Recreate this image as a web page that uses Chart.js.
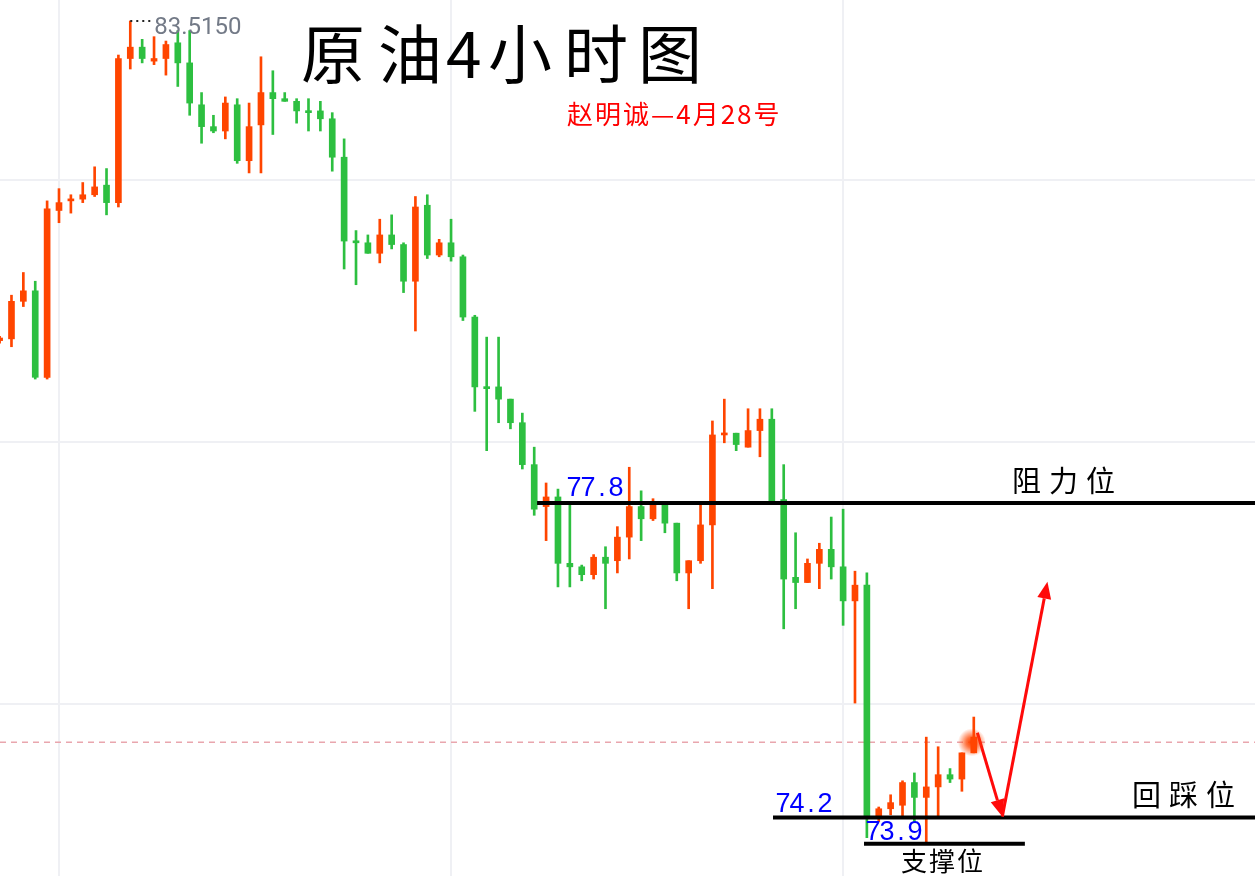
<!DOCTYPE html>
<html>
<head>
<meta charset="utf-8">
<script src="https://cdn.jsdelivr.net/npm/chart.js@4.4.0/dist/chart.umd.min.js"></script>
<style>
  html, body { margin: 0; padding: 0; background: #fff; }
  #wrap { width: 1255px; height: 876px; position: relative; }
</style>
</head>
<body>
<div id="wrap"><canvas id="chart"></canvas></div>
<script>
// 4h candles, oldest first
const opens = [79.66, 79.68, 80.11, 80.23, 79.24, 81.15, 81.26, 81.28, 81.33, 81.44,
  81.24, 82.89, 83.02, 82.86, 82.89, 83.07, 82.84, 82.36, 82.11, 82.06,
  82.36, 81.72, 82.13, 82.50, 82.43, 82.40, 82.29, 82.29, 82.20, 81.76,
  80.80, 80.78, 80.66, 80.87, 80.76, 80.34, 81.21, 80.64, 80.78, 80.62,
  79.93, 79.13, 79.13, 78.99, 78.72, 78.24, 77.76, 77.87, 77.11, 77.07,
  76.98, 77.18, 77.14, 77.41, 77.76, 77.62, 77.80, 77.57, 77.00, 77.14,
  77.55, 78.58, 78.60, 78.44, 78.63, 78.76, 77.84, 76.95, 76.89, 77.11,
  77.27, 77.07, 76.68, 76.86, 74.21, 74.30, 74.34, 74.60, 74.43, 74.55,
  74.69, 74.64, 74.94];
const closes = [79.69, 80.11, 80.23, 79.24, 81.17, 81.24, 81.28, 81.33, 81.42, 81.24,
  82.89, 83.02, 82.89, 82.89, 83.05, 82.84, 82.38, 82.11, 82.06, 82.38,
  81.72, 82.11, 82.50, 82.43, 82.40, 82.29, 82.27, 82.20, 81.76, 80.80,
  80.78, 80.66, 80.87, 80.76, 80.34, 81.19, 80.64, 80.78, 80.62, 79.93,
  79.13, 79.11, 78.99, 78.72, 78.24, 77.73, 77.87, 77.11, 77.07, 76.98,
  77.18, 77.11, 77.41, 77.76, 77.62, 77.80, 77.57, 77.00, 77.14, 77.55,
  78.58, 78.60, 78.47, 78.63, 78.76, 77.82, 76.93, 76.89, 77.11, 77.27,
  77.07, 76.68, 76.86, 74.21, 74.30, 74.37, 74.60, 74.43, 74.55, 74.69,
  74.64, 74.94, 75.12];
const highs = [79.71, 80.18, 80.44, 80.34, 81.26, 81.40, 81.33, 81.47, 81.65, 81.63,
  82.93, 83.32, 83.11, 83.14, 83.09, 83.21, 83.21, 82.50, 82.24, 82.45,
  82.43, 82.38, 82.91, 82.75, 82.50, 82.43, 82.43, 82.40, 82.27, 81.97,
  80.92, 80.87, 81.05, 81.10, 80.78, 81.31, 81.33, 80.82, 81.05, 80.64,
  79.95, 79.70, 79.70, 78.99, 78.83, 78.44, 78.03, 77.96, 77.80, 77.09,
  77.21, 77.30, 77.53, 78.21, 77.94, 77.85, 77.82, 77.57, 77.14, 77.80,
  78.74, 78.99, 78.60, 78.88, 78.88, 78.88, 78.24, 77.46, 77.16, 77.34,
  77.64, 77.73, 77.02, 77.00, 74.32, 74.46, 74.62, 74.71, 75.12, 75.01,
  74.76, 74.94, 75.35];
const lows = [79.63, 79.59, 80.05, 79.22, 79.22, 81.01, 81.12, 81.24, 81.31, 81.10,
  81.19, 82.77, 82.84, 82.82, 82.70, 82.57, 82.24, 81.92, 82.04, 81.97,
  81.69, 81.58, 81.58, 82.02, 82.40, 82.15, 82.06, 82.06, 81.60, 80.48,
  80.30, 80.66, 80.55, 80.71, 80.21, 79.77, 80.60, 80.62, 80.57, 79.89,
  78.85, 78.40, 78.72, 78.65, 78.19, 77.66, 77.37, 76.84, 76.84, 76.91,
  76.93, 76.59, 77.00, 77.16, 77.37, 77.60, 77.46, 76.91, 76.59, 77.11,
  76.82, 78.49, 78.40, 78.44, 78.33, 77.80, 76.36, 76.59, 76.89, 76.82,
  76.93, 76.40, 75.51, 73.97, 74.15, 74.23, 74.21, 74.15, 73.91, 74.21,
  74.60, 74.50, 74.94];

const levelPrices = [77.8, 74.2, 73.9];
const levelTexts = ['77.8', '74.2', '73.9'];
const levelNames = ['阻力位', '回踩位', '支撑位'];
const lastPrice = 75.06;
const highText = '83.5150';
const titleText = '原油4小时图';
const subtitleText = '赵明诚—4月28号';
const gridPrices = [75.5, 78.5, 81.5];
const gridBars = [5, 38, 71];
// path of the drawn arrows: [bar index, price]
const arrowPath = [[82.3, 75.17], [84.4, 74.21], [88.2, 76.90]];

const UP = '#ff4500';
const DOWN = '#2dbf40';
const candleColors = opens.map((o, i) => closes[i] >= o ? UP : DOWN);

function spaced(ctx, text, x, y, gap) {
  for (const ch of text) {
    ctx.fillText(ch, x, y);
    x += ctx.measureText(ch).width + gap;
  }
}

function monoText(ctx, text, x, y, cell) {
  ctx.textAlign = 'center';
  [...text].forEach((ch, i) => ctx.fillText(ch, x + cell * i + cell / 2, y));
  ctx.textAlign = 'left';
}

function arrow(ctx, x1, y1, x2, y2) {
  const ang = Math.atan2(y2 - y1, x2 - x1);
  const len = 17, half = 7;
  const bx = x2 - Math.cos(ang) * len, by = y2 - Math.sin(ang) * len;
  ctx.beginPath();
  ctx.moveTo(x1, y1);
  ctx.lineTo(bx, by);
  ctx.stroke();
  ctx.beginPath();
  ctx.moveTo(x2, y2);
  ctx.lineTo(bx + Math.sin(ang) * half, by - Math.cos(ang) * half);
  ctx.lineTo(bx - Math.sin(ang) * half, by + Math.cos(ang) * half);
  ctx.closePath();
  ctx.fill();
}

const overlay = {
  id: 'overlay',
  beforeDatasetsDraw(chart) {
    const { ctx, chartArea, scales: { y } } = chart;
    const py = y.getPixelForValue(lastPrice);
    ctx.save();
    ctx.strokeStyle = '#e9a6ae';
    ctx.lineWidth = 1.5;
    ctx.setLineDash([6, 5]);
    ctx.beginPath();
    ctx.moveTo(chartArea.left, py);
    ctx.lineTo(chartArea.right, py);
    ctx.stroke();
    ctx.restore();
  },
  afterDatasetsDraw(chart) {
    const { ctx, scales: { x, y } } = chart;
    ctx.save();

    // key levels
    const starts = [45.24, 65.1, 72.76];
    const ends = [x.max, x.max, 86.3];
    const ly = levelPrices.map(v => y.getPixelForValue(v));
    ctx.strokeStyle = '#000';
    ctx.lineWidth = 4;
    levelPrices.forEach((v, i) => {
      ctx.beginPath();
      ctx.moveTo(x.getPixelForValue(starts[i]), ly[i]);
      ctx.lineTo(x.getPixelForValue(ends[i]), ly[i]);
      ctx.stroke();
    });

    ctx.textBaseline = 'middle';
    ctx.fillStyle = '#0000ff';
    ctx.font = '27px "Liberation Sans", Arial, sans-serif';
    monoText(ctx, levelTexts[0], 567, ly[0] - 15, 14);
    monoText(ctx, levelTexts[1], 776, ly[1] - 13, 14);
    monoText(ctx, levelTexts[2], 866, ly[2] - 11, 14);

    ctx.fillStyle = '#000';
    ctx.font = '29px "Noto Sans CJK SC", sans-serif';
    spaced(ctx, levelNames[0], 1012, ly[0] - 22, 8);
    spaced(ctx, levelNames[1], 1132, ly[1] - 22, 8);
    ctx.font = '26px "Noto Sans CJK SC", sans-serif';
    spaced(ctx, levelNames[2], 901, ly[2] + 17, 2);

    // high marker
    const hx = x.getPixelForValue(11);
    const hy = y.getPixelForValue(highs[11]);
    ctx.strokeStyle = '#222';
    ctx.lineWidth = 2;
    ctx.setLineDash([2, 4]);
    ctx.beginPath();
    ctx.moveTo(hx, hy);
    ctx.lineTo(hx + 21, hy);
    ctx.stroke();
    ctx.setLineDash([]);
    ctx.fillStyle = '#737a87';
    ctx.font = '24px Roboto, "Noto Sans", sans-serif';
    ctx.fillText(highText, hx + 24, hy + 7);

    // arrows
    const pts = arrowPath.map(p => [x.getPixelForValue(p[0]), y.getPixelForValue(p[1])]);
    ctx.strokeStyle = '#ff0a0a';
    ctx.fillStyle = '#ff0a0a';
    ctx.lineWidth = 3;
    arrow(ctx, pts[0][0], pts[0][1], pts[1][0], pts[1][1]);
    arrow(ctx, pts[1][0], pts[1][1], pts[2][0], pts[2][1]);

    // glowing last price dot
    const gx = x.getPixelForValue(opens.length - 1) - 2;
    const gy = y.getPixelForValue(lastPrice);
    const g = ctx.createRadialGradient(gx, gy, 1, gx, gy, 14);
    g.addColorStop(0, 'rgba(255,69,0,1)');
    g.addColorStop(0.35, 'rgba(255,69,0,0.75)');
    g.addColorStop(1, 'rgba(255,69,0,0)');
    ctx.fillStyle = g;
    ctx.beginPath();
    ctx.arc(gx, gy, 14, 0, Math.PI * 2);
    ctx.fill();

    // title + author line
    ctx.fillStyle = '#000';
    ctx.font = '64px "Noto Sans CJK SC", sans-serif';
    const lefts = [301, 378, 446, 488, 564, 638];
    [...titleText].forEach((ch, i) => ctx.fillText(ch, lefts[i], 54));
    ctx.fillStyle = '#ff0000';
    ctx.font = '26px "Noto Sans CJK SC", sans-serif';
    spaced(ctx, subtitleText, 567, 114, 2);

    ctx.restore();
  }
};

new Chart(document.getElementById('chart'), {
  type: 'bar',
  data: {
    datasets: [
      {
        label: 'body',
        data: opens.map((o, i) => ({ x: i, y: [o, closes[i]] })),
        backgroundColor: candleColors,
        barThickness: 6,
        minBarLength: 2,
        grouped: false,
        borderWidth: 0
      },
      {
        label: 'wick',
        data: lows.map((l, i) => ({ x: i, y: [l, highs[i]] })),
        backgroundColor: candleColors,
        barThickness: 2,
        grouped: false,
        borderWidth: 0
      }
    ]
  },
  options: {
    responsive: true,
    maintainAspectRatio: false,
    animation: false,
    layout: { padding: 0 },
    plugins: {
      legend: { display: false },
      tooltip: { enabled: false }
    },
    scales: {
      x: {
        type: 'linear',
        min: 0.034,
        max: 105.67,
        offset: false,
        grid: { color: '#eff0f4', lineWidth: 2, drawTicks: false, offset: false },
        border: { display: false },
        ticks: { display: false },
        afterBuildTicks: s => { s.ticks = gridBars.map(v => ({ value: v })); }
      },
      y: {
        min: 73.53,
        max: 83.56,
        grid: { color: '#eff0f4', lineWidth: 2, drawTicks: false },
        border: { display: false },
        ticks: { display: false },
        afterBuildTicks: s => { s.ticks = gridPrices.map(v => ({ value: v })); }
      }
    }
  },
  plugins: [overlay]
});
</script>
</body>
</html>
